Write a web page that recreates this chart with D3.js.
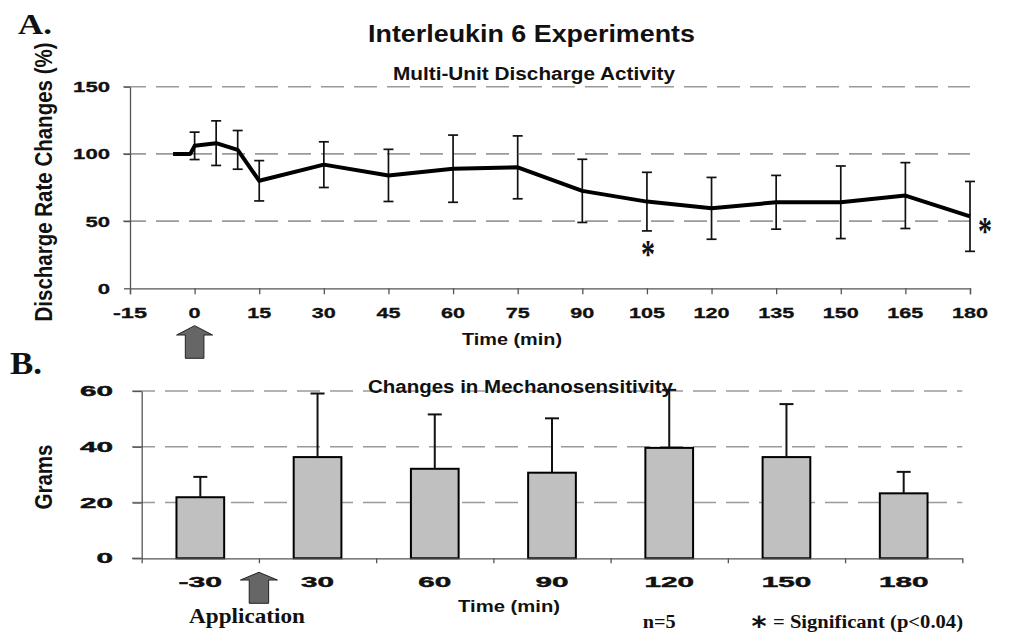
<!DOCTYPE html>
<html><head><meta charset="utf-8">
<script src="https://cdn.jsdelivr.net/npm/d3@7"></script>
<style>body{margin:0;background:#fff}svg{display:block}</style>
</head><body>
<script>
// ---------- Data ----------
// Panel A: multi-unit discharge activity (% change) over time (min)
const lineTimes = [-5, -1, 0, 5, 10, 15, 30, 45, 60, 75, 90, 105, 120, 135, 150, 165, 180];
const lineMeans = [100, 100, 106, 108, 103, 80, 92, 84, 89, 90, 72.5, 64.5, 59.5, 64, 64, 69, 53.5];
const lineSD    = [null, null, 10.2, 16.6, 14.4, 15, 17, 19.4, 25, 23.4, 23.5, 21.8, 23, 20, 27, 24.5, 26];
const topXTicks = [-15, 0, 15, 30, 45, 60, 75, 90, 105, 120, 135, 150, 165, 180];
const topYTicks = [0, 50, 100, 150];
const sigTimes  = [105, 180];

// Panel B: mechanosensitivity (grams)
const barCats  = ["-30", "30", "60", "90", "120", "150", "180"];
const barMeans = [21.9, 36.3, 32.1, 30.7, 39.6, 36.3, 23.3];
const barSD    = [7.3, 22.8, 19.5, 19.5, 20.8, 19.0, 7.7];
const botYTicks = [0, 20, 40, 60];

// ---------- Setup ----------
const W = 1012, H = 633, SX = 1.17;
const svg = d3.select("body").append("svg").attr("width", W).attr("height", H);
const SERIF = "Liberation Serif, Times New Roman, serif";

function txt(x, y, s, o) {
  const t = svg.append("text").attr("x", x).attr("y", y).text(s)
    .attr("font-family", o.family || "Liberation Sans, Arial, sans-serif")
    .attr("font-weight", o.weight || "bold")
    .attr("font-size", o.size)
    .attr("text-anchor", o.anchor || "middle")
    .attr("fill", o.fill || "#111");
  if (o.len) t.attr("textLength", o.len).attr("lengthAdjust", "spacingAndGlyphs");
  if (o.stroke) t.attr("stroke", "#111").attr("stroke-width", o.stroke);
  return t;
}
function vtxt(x, y, s, size, len) {
  svg.append("text").text(s)
    .attr("transform", `translate(${x},${y}) scale(${SX},1) rotate(-90)`)
    .attr("font-family", "Liberation Sans, Arial, sans-serif")
    .attr("font-weight", "bold").attr("font-size", size)
    .attr("text-anchor", "middle").attr("fill", "#111")
    .attr("textLength", len).attr("lengthAdjust", "spacingAndGlyphs");
}
function numLen(s, dig, minus) {
  let l = 0; for (const c of s) l += (c === "-" ? minus : dig); return l;
}
function arrow(cx, top, headBase, bottom, hw, sw) {
  const p = d3.path();
  p.moveTo(cx, top); p.lineTo(cx + hw, headBase); p.lineTo(cx + sw, headBase);
  p.lineTo(cx + sw, bottom); p.lineTo(cx - sw, bottom); p.lineTo(cx - sw, headBase);
  p.lineTo(cx - hw, headBase); p.closePath();
  svg.append("path").attr("d", p.toString()).attr("fill", "#666").attr("stroke", "#222").attr("stroke-width", 1);
}

// ---------- Panel A ----------
const xA = d3.scaleLinear().domain([-15, 180]).range([130, 970]);
const yA = d3.scaleLinear().domain([0, 150]).range([288.3, 86.7]);

txt(18, 34, "A.", {family: SERIF, size: 29, anchor: "start", len: 34});
txt(531.5, 42, "Interleukin 6 Experiments", {size: 23, len: 327});

// gridlines
svg.append("g").selectAll("line").data(topYTicks.filter(d => d > 0)).join("line")
  .attr("x1", 123).attr("x2", xA(180)).attr("y1", d => yA(d)).attr("y2", d => yA(d))
  .attr("stroke", "#9a9a9a").attr("stroke-width", 1.6).attr("stroke-dasharray", "23,10");

txt(534, 80, "Multi-Unit Discharge Activity", {size: 18, len: 282});

// axes
const gAx = svg.append("g").attr("transform", `translate(0,${yA(0)})`)
  .call(d3.axisBottom(xA).tickValues(topXTicks).tickSize(6).tickFormat(""));
gAx.select(".domain").attr("stroke", "#555").attr("stroke-width", 1.3);
gAx.selectAll(".tick line").attr("stroke", "#555").attr("stroke-width", 1.3);
const gAy = svg.append("g").attr("transform", `translate(${xA(-15)},0)`)
  .call(d3.axisLeft(yA).tickValues(topYTicks).tickSize(6).tickFormat("").tickSizeOuter(0));
gAy.select(".domain").attr("stroke", "#555").attr("stroke-width", 1.3);
gAy.selectAll(".tick line").attr("stroke", "#555").attr("stroke-width", 1.3);

topXTicks.forEach(t => txt(xA(t), 318, String(t), {size: 15, len: numLen(String(t), 12, 10), stroke: 0.3}));
topYTicks.forEach(t => txt(110, yA(t) + 5.4, String(t), {size: 15, anchor: "end", len: numLen(String(t), 12.3, 10), stroke: 0.3}));

txt(512, 345, "Time (min)", {size: 17, len: 100});
vtxt(52, 182, "Discharge Rate Changes (%)", 20, 279);

// error bars
const lineData = lineTimes.map((t, i) => ({t, m: lineMeans[i], sd: lineSD[i]}));
const eb = svg.append("g").attr("stroke", "#111").attr("stroke-width", 1.7);
lineData.filter(d => d.sd != null).forEach(d => {
  const x = xA(d.t);
  eb.append("line").attr("x1", x).attr("x2", x).attr("y1", yA(d.m + d.sd)).attr("y2", yA(d.m - d.sd));
  eb.append("line").attr("x1", x - 5).attr("x2", x + 5).attr("y1", yA(d.m + d.sd)).attr("y2", yA(d.m + d.sd));
  eb.append("line").attr("x1", x - 5).attr("x2", x + 5).attr("y1", yA(d.m - d.sd)).attr("y2", yA(d.m - d.sd));
});
svg.append("path").datum(lineData)
  .attr("d", d3.line().x(d => xA(d.t)).y(d => yA(d.m)))
  .attr("fill", "none").attr("stroke", "#000").attr("stroke-width", 4).attr("stroke-linejoin", "round");

// significance marks
const sA = lineData.find(d => d.t === sigTimes[0]);
txt(xA(sA.t) + 1, yA(sA.m - sA.sd) + 36, "*", {family: SERIF, size: 40, weight: "bold", len: 14});
const sB = lineData.find(d => d.t === sigTimes[1]);
txt(xA(sB.t) + 15, yA(sB.m) + 28, "*", {family: SERIF, size: 40, weight: "bold", len: 14});

arrow(xA(0), 325.7, 335, 358.3, 18, 9.3);

// ---------- Panel B ----------
const yB = d3.scaleLinear().domain([0, 60]).range([558.3, 391]);
const xB = d3.scaleBand().domain(barCats).range([141.7, 962.3]).paddingInner(0.593).paddingOuter(0.2965);
const step = xB.step();
const x0B = 141.7;

txt(10, 374, "B.", {family: SERIF, size: 32, anchor: "start", len: 32});

svg.append("g").selectAll("line").data(botYTicks.filter(d => d > 0)).join("line")
  .attr("x1", 132).attr("x2", 962.3).attr("y1", d => yB(d)).attr("y2", d => yB(d))
  .attr("stroke", "#9a9a9a").attr("stroke-width", 1.6).attr("stroke-dasharray", "23,10");

txt(520.5, 393, "Changes in Mechanosensitivity", {size: 17.5, len: 305});

// bars
svg.append("g").selectAll("rect").data(barCats).join("rect")
  .attr("x", d => xB(d)).attr("width", xB.bandwidth())
  .attr("y", (d, i) => yB(barMeans[i])).attr("height", (d, i) => yB(0) - yB(barMeans[i]))
  .attr("fill", "#c0c0c0").attr("stroke", "#000").attr("stroke-width", 2);

// error bars (upper only)
const ebB = svg.append("g").attr("stroke", "#111").attr("stroke-width", 2);
barCats.forEach((c, i) => {
  const x = xB(c) + xB.bandwidth() / 2;
  ebB.append("line").attr("x1", x).attr("x2", x).attr("y1", yB(barMeans[i])).attr("y2", yB(barMeans[i] + barSD[i]));
  ebB.append("line").attr("x1", x - 7).attr("x2", x + 7).attr("y1", yB(barMeans[i] + barSD[i])).attr("y2", yB(barMeans[i] + barSD[i]));
});

// axes
const bIdx = d3.scaleLinear().domain([0, barCats.length]).range([x0B, x0B + step * barCats.length]);
const gBx = svg.append("g").attr("transform", `translate(0,${yB(0)})`)
  .call(d3.axisBottom(bIdx).tickValues(d3.range(barCats.length + 1)).tickSize(5).tickFormat("").tickSizeOuter(0));
gBx.select(".domain").attr("stroke", "#555").attr("stroke-width", 1.3);
gBx.selectAll(".tick line").attr("stroke", "#555").attr("stroke-width", 1.3);
svg.append("line").attr("x1", 132).attr("x2", x0B).attr("y1", yB(0)).attr("y2", yB(0)).attr("stroke", "#555").attr("stroke-width", 1.3);
const gBy = svg.append("g").attr("transform", `translate(${x0B},0)`)
  .call(d3.axisLeft(yB).tickValues(botYTicks).tickSize(9).tickFormat("").tickSizeOuter(0));
gBy.select(".domain").attr("stroke", "#555").attr("stroke-width", 1.3);
gBy.selectAll(".tick line").attr("stroke", "#555").attr("stroke-width", 1.3);

barCats.forEach(c => txt(xB(c) + xB.bandwidth() / 2, 587, c, {size: 14, len: numLen(c, 16.5, 10.5), stroke: 0.4}));
botYTicks.forEach(t => txt(113, yB(t) + 5, String(t), {size: 14, anchor: "end", len: numLen(String(t), 16.5, 10), stroke: 0.4}));

txt(509, 612, "Time (min)", {size: 17, len: 102});
vtxt(52, 477, "Grams", 20, 65);

arrow(bIdx(1), 572.3, 580, 603.3, 18.5, 9.7);

txt(247, 623, "Application", {family: SERIF, size: 21, len: 116});
txt(642.7, 628, "n=5", {family: SERIF, size: 18, anchor: "start", len: 33});
txt(759, 628, "\u204E", {family: "DejaVu Sans, sans-serif", size: 26, weight: "bold", len: 15});
txt(773, 628, "= Significant (p<0.04)", {family: SERIF, size: 18, anchor: "start", len: 190});
</script>
</body></html>
